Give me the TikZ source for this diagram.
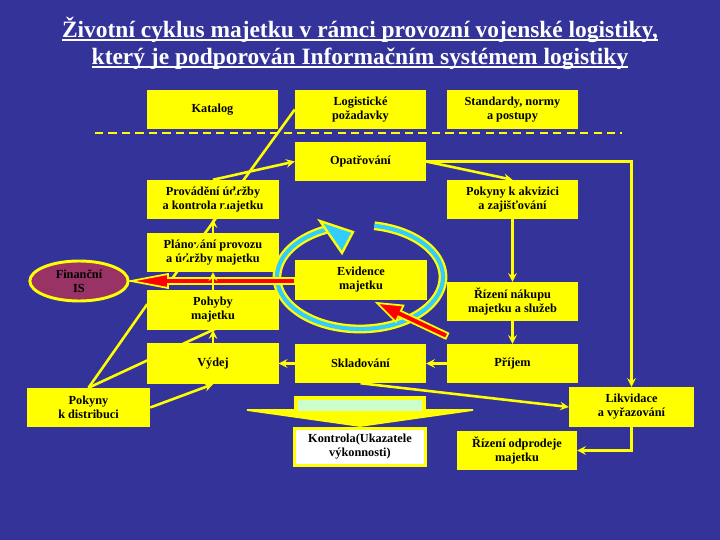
\documentclass[tikz,border=0pt]{standalone}
\usepackage{fontspec}
\setmainfont{Liberation Serif}
\usetikzlibrary{shapes,arrows,positioning,calc}
\usepackage{xcolor}

\definecolor{bgblue}{HTML}{333399}
\definecolor{boxyellow}{HTML}{FFFF00}
\definecolor{finred}{HTML}{993366}
\definecolor{cyclecyan}{HTML}{33CCFF}
\definecolor{palegreen}{HTML}{CCFFCC}
% underlined title line
\newcommand{\titleline}[1]{\setbox0\hbox{#1}\rlap{\rule[-3.5pt]{\wd0}{1.5pt}}\box0}

\begin{document}
\begin{tikzpicture}[x=0.03cm, y=-0.03cm,
    box/.style={rectangle, fill=boxyellow, minimum width=3.93cm,
                minimum height=1.17cm, inner sep=1pt, align=center,
                font=\bfseries\fontsize{10.5}{12}\selectfont},
    arrow/.style={->, >=stealth, draw=boxyellow, line width=2.2pt},
    plain_line/.style={draw=boxyellow, line width=2.2pt},
    sep_line/.style={draw=boxyellow, line width=2.5pt, dash pattern=on 7pt off 4.5pt},
    red_arrow/.style={fill=red, draw=boxyellow, line width=1.5pt, line join=miter},
    ring_out/.style={draw=boxyellow, line width=7.5pt},
    ring_in/.style={draw=cyclecyan, line width=3.6pt}
  ]

  % Background and title
  \fill[bgblue] (0,0) rectangle (720,540);
  \node[text=white, align=center, font=\bfseries\fontsize{20}{23}\selectfont] (title) at (360,43)
    {\titleline{Životní cyklus majetku v rámci provozní vojenské logistiky,}\\
     \titleline{který je podporován Informačním systémem logistiky}};

  % Top row and separator
  \node[box] (katalog) at (212.5,109.5) {Katalog};
  \node[box] (logpoz) at (360.5,109.5) {Logistické\\požadavky};
  \node[box] (standard) at (512.5,109.5) {Standardy, normy\\a postupy};
  \coordinate (sep_l) at (95,133);
  \coordinate (sep_r) at (622,133);
  \draw[sep_line] (sep_l) -- (sep_r);

  % Cycle boxes
  \node[box] (opatr) at (360.5,161.5) {Opatřování};
  \node[box] (provad) at (213,199.5) {Provádění údržby\\a kontrola majetku};
  \node[box] (akviz) at (512.5,199.5) {Pokyny k akvizici\\a zajišťování};
  \node[box] (planov) at (213,252.5) {Plánování provozu\\a údržby majetku};
  \node[box, minimum height=1.2cm] (evid) at (361,280) {Evidence\\majetku};
  \node[box, minimum height=1.2cm] (pohyby) at (213,310) {Pohyby\\majetku};
  \node[box] (nakup) at (512.5,301.5) {Řízení nákupu\\majetku a služeb};
  \node[box] (sklad) at (360.5,363.5) {Skladování};
  \node[box] (prijem) at (512.5,363.5) {Příjem};
  \node[box, minimum width=3.69cm] (distrib) at (88.5,407.5) {Pokyny\\k distribuci};
  \node[ellipse, fill=finred, draw=boxyellow, line width=2.5pt, minimum width=2.95cm,
        minimum height=1.2cm, inner sep=0pt, align=center,
        font=\bfseries\fontsize{10.5}{12}\selectfont] (finis) at (79,281) {Finanční\\IS};

  % Distribution line runs under Vydej
  \coordinate (distrib_end) at (230,322);
  \draw[plain_line] (distrib.north) -- (distrib_end);
  \node[box, minimum height=1.23cm] (vydej) at (213,363.5) {Výdej};

  % Bottom boxes
  \node[box, minimum width=3.75cm, minimum height=1.2cm] (likvid) at (631.5,407) {Likvidace\\a vyřazování};
  \node[box, minimum width=3.6cm] (odprod) at (517,450.5) {Řízení odprodeje\\majetku};
  \node[box, fill=white, draw=boxyellow, line width=2.5pt, minimum width=3.93cm,
        minimum height=1.12cm] (kontrola) at (360,447) {Kontrola(Ukazatele\\výkonnosti)};

  % Wide arrow to Kontrola
  \filldraw[fill=boxyellow, draw=boxyellow, line width=1.5pt, line join=miter]
    (295,397) -- (425,397) -- (425,410) -- (473,410) -- (360,426) -- (247,410) -- (295,410) -- cycle;
  \fill[palegreen] (298,400) rectangle (422,411);

  % Cycle around Evidence
  \draw[ring_out] plot[domain=-80:250, samples=90, smooth] ({360+83*cos(\x)},{277+52*sin(\x)});
  \draw[ring_in] plot[domain=-80:250, samples=90, smooth] ({360+83*cos(\x)},{277+52*sin(\x)});
  \filldraw[fill=cyclecyan, draw=boxyellow, line width=2pt, line join=miter]
    (320,221) -- (353,232) -- (342,253) -- cycle;

  % Long line from Logisticke pozadavky
  \coordinate (log_end) at (166,287);
  \draw[plain_line] (log_end) -- (logpoz.west);

  % Red arrows
  \filldraw[red_arrow] (295,278) -- (168,278) -- (168,274) -- (131,281) -- (168,288)
    -- (168,284) -- (295,284) -- cycle;
  \filldraw[red_arrow] (448.3,333.3) -- (400.9,310.9) -- (403.4,305.5) -- (377,303)
    -- (395.8,321.8) -- (398.3,316.4) -- (445.7,338.7) -- cycle;

  % Connectors
  \draw[arrow] (provad.north) -- (opatr.west);
  \draw[arrow] (opatr.east) -- (akviz.north);
  \draw[arrow] (opatr.east) -| (likvid.north);
  \draw[arrow] (akviz) -- (nakup);
  \draw[arrow] (nakup) -- (prijem);
  \draw[arrow] (prijem) -- (sklad);
  \draw[arrow] (sklad) -- (vydej);
  \draw[arrow] (vydej) -- (pohyby);
  \draw[arrow] (pohyby) -- (planov);
  \draw[arrow] (planov) -- (provad);
  \draw[arrow] (sklad.south) -- (likvid.west);
  \draw[arrow] (likvid.south) |- (odprod.east);
  \draw[plain_line] (distrib.north) -- ([yshift=5pt]pohyby.west);
  \draw[arrow] (distrib.east) -- (vydej.south);

\end{tikzpicture}
\end{document}
